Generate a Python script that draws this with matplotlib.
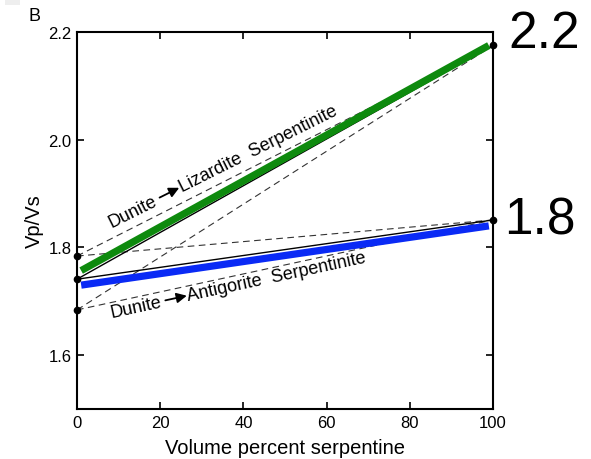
import matplotlib
matplotlib.use("Agg")
import matplotlib.pyplot as plt
from matplotlib.transforms import IdentityTransform
from matplotlib.patches import FancyArrowPatch, Rectangle
import numpy as np

plt.rcParams['font.family'] = ['Liberation Sans', 'DejaVu Sans']

# Data
x_ends = [0, 100]
dunite_points = [1.784, 1.741, 1.684]      # Vp/Vs at 0 % serpentine
serp_points = [2.175, 1.851]                # Vp/Vs at 100 % serpentine
green_x = [1, 99]
green_y = [1.757, 2.175]
blue_x = [1, 99]
blue_y = [1.730, 1.840]
solid_pairs = [(1.741, 2.175), (1.741, 1.851)]
dashed_pairs = [(1.784, 2.175), (1.684, 2.175), (1.784, 1.851), (1.684, 1.851)]
xticks = [0, 20, 40, 60, 80, 100]
yticks = [1.6, 1.8, 2.0, 2.2]

W, H = 591, 460
fig = plt.figure(figsize=(W / 100, H / 100), dpi=100)
ax = fig.add_axes([77 / W, 50 / H, 416 / W, 377 / H])

for y0, y1 in dashed_pairs:
    ax.plot(x_ends, [y0, y1], color='#333333', lw=0.8, dashes=(6, 4), zorder=2)
for y0, y1 in solid_pairs:
    ax.plot(x_ends, [y0, y1], color='black', lw=1.0, zorder=3)
ax.plot(green_x, green_y, color='#0e8a0e', lw=5.2, solid_capstyle='butt', zorder=4)
ax.plot(blue_x, blue_y, color='#0a2af5', lw=5.2, solid_capstyle='butt', zorder=4)
ax.plot([0] * len(dunite_points), dunite_points, 'o', color='black', ms=4.5, zorder=6, clip_on=False)
ax.plot([100] * len(serp_points), serp_points, 'o', color='black', ms=4.5, zorder=6, clip_on=False)

ax.set_xlim(0, 100)
ax.set_ylim(1.5, 2.2)
ax.set_xticks(xticks)
ax.set_yticks(yticks)
ax.set_yticklabels([f"{v:.1f}" for v in yticks])
ax.tick_params(direction='in', length=5, width=1.2, top=True, right=True, labelsize=12, pad=4)
for s in ax.spines.values():
    s.set_linewidth(1.5)

ax.set_xlabel('Volume percent serpentine', fontsize=14.5, labelpad=6)
ax.set_ylabel('Vp/Vs', fontsize=14.5, labelpad=3)

renderer = fig.canvas.get_renderer()


def arrow_label(px, py, angle, left, right, fs=13, gap=4, alen=22):
    """Place 'left ->right' along a rotated baseline starting at pixel (px, py) (top-left origin)."""
    th = np.deg2rad(angle)
    u = np.array([np.cos(th), np.sin(th)])
    p0 = np.array([px, H - py], dtype=float)
    t1 = ax.text(p0[0], p0[1], left, transform=IdentityTransform(), fontsize=fs,
                 ha='left', va='baseline', rotation=0, rotation_mode='anchor', zorder=5)
    w1 = t1.get_window_extent(renderer).width
    t1.set_rotation(angle)
    nrm = np.array([-np.sin(th), np.cos(th)])
    lift = fs * 100 / 72 * 0.27
    a0 = p0 + u * (w1 + gap) + nrm * lift
    a1 = a0 + u * alen
    arr = FancyArrowPatch(posA=tuple(a0), posB=tuple(a1), transform=IdentityTransform(),
                          arrowstyle='-|>,head_length=6,head_width=3', mutation_scale=1,
                          color='black', lw=1.3, shrinkA=0, shrinkB=0, zorder=5)
    fig.add_artist(arr)
    p2 = p0 + u * (w1 + gap + alen + 0.5)
    ax.text(p2[0], p2[1], right, transform=IdentityTransform(), fontsize=fs,
            ha='left', va='baseline', rotation=angle, rotation_mode='anchor', zorder=5)


arrow_label(111.5, 228, 26.5, 'Dunite', 'Lizardite  Serpentinite')
arrow_label(111.5, 318, 12.2, 'Dunite', 'Antigorite  Serpentinite')

fig.add_artist(Rectangle((5 / W, 1 - 6 / H), 15 / W, 6 / H, transform=fig.transFigure,
                         facecolor='#eeeeee', edgecolor='none'))
fig.text(34 / W, 1 - 16.5 / H, 'B', fontsize=13, ha='center', va='center')
fig.text(0.860, 0.925, '2.2', fontsize=37, ha='left', va='center')
fig.text(0.853, 0.520, '1.8', fontsize=37, ha='left', va='center')

fig.savefig('out.png', dpi=100)
